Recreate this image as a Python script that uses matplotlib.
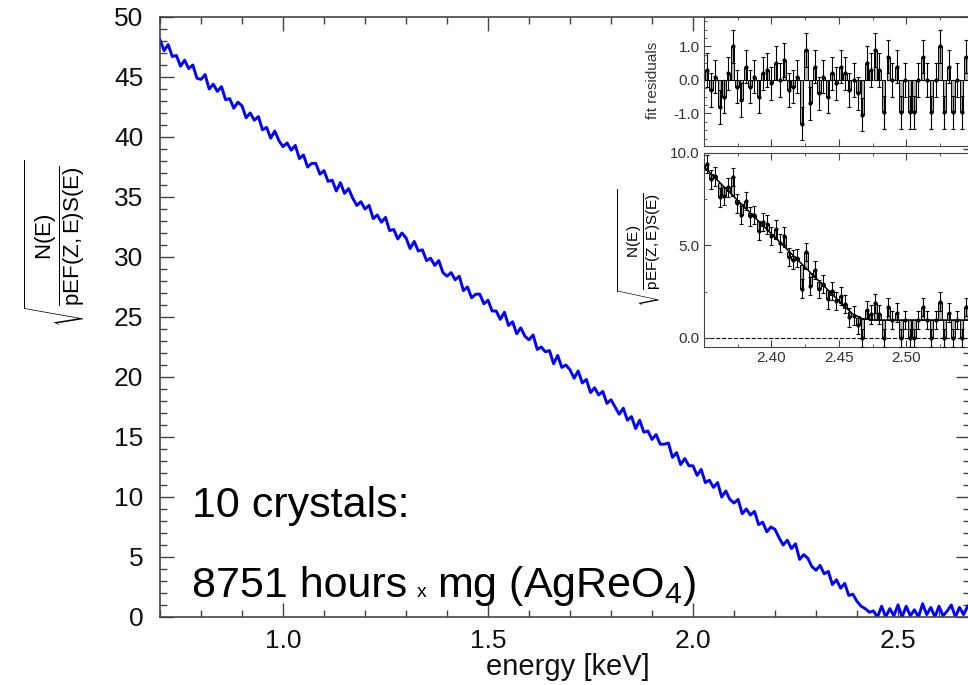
import matplotlib
matplotlib.use("Agg")
import matplotlib.pyplot as plt
from matplotlib.ticker import MultipleLocator, FixedLocator, FormatStrFormatter
import numpy as np

plt.rcParams['font.family'] = ['Liberation Sans', 'DejaVu Sans']
plt.rcParams['mathtext.fontset'] = 'custom'
plt.rcParams['mathtext.rm'] = 'Liberation Sans'
plt.rcParams['mathtext.it'] = 'Liberation Sans:italic'
plt.rcParams['mathtext.bf'] = 'Liberation Sans:bold'

# main spectrum: sqrt Kurie values, 0.01 keV bins from 0.70 to 2.67 keV
energy = np.arange(70, 268) / 100.0
kurie = [
    48.1, 47.2, 47.7, 46.7, 46.8, 45.9, 46.4, 45.7, 46.0, 44.9,
    44.8, 45.2, 44.0, 44.4, 43.8, 44.2, 43.1, 43.2, 42.4, 42.9,
    42.6, 41.6, 42.0, 41.4, 41.7, 40.6, 40.8, 39.9, 40.5, 39.7,
    39.2, 39.5, 38.9, 39.3, 38.2, 38.5, 37.5, 37.8, 37.8, 36.9,
    37.2, 36.3, 36.4, 35.5, 36.2, 35.3, 35.7, 34.9, 34.3, 34.6,
    34.0, 34.3, 33.2, 33.5, 32.9, 33.3, 32.2, 32.3, 31.5, 32.0,
    31.6, 30.7, 31.3, 30.5, 30.6, 29.7, 29.9, 29.3, 29.7, 28.7,
    28.4, 28.7, 28.1, 28.4, 27.2, 27.5, 26.6, 26.9, 26.9, 26.1,
    26.4, 25.5, 25.5, 24.8, 25.4, 24.3, 24.6, 23.6, 24.1, 23.4,
    23.1, 23.5, 22.3, 22.5, 22.1, 22.2, 21.1, 21.8, 20.8, 21.0,
    20.6, 19.9, 20.5, 19.5, 19.8, 18.7, 19.1, 18.5, 18.8, 17.8,
    18.1, 17.5, 16.9, 17.4, 16.4, 16.7, 15.7, 16.4, 15.4, 15.5,
    14.8, 15.2, 14.4, 14.4, 14.5, 13.3, 13.7, 12.7, 13.2, 12.6,
    12.6, 11.8, 12.3, 11.2, 11.4, 10.8, 11.2, 10.0, 10.5, 9.8,
    9.5, 9.8, 8.6, 9.0, 8.5, 8.8, 7.7, 7.9, 7.1, 7.5,
    7.3, 6.6, 6.0, 6.4, 5.7, 6.1, 4.8, 5.2, 4.9, 4.2,
    3.9, 4.3, 3.6, 3.8, 2.7, 3.1, 2.4, 2.8, 1.8, 1.9,
    1.3, 0.9, 0.7, 0.4, 0.5, 0.0, 0.9, 0.0, 0.7, 0.1,
    1.0, 0.0, 0.9, 0.1, 0.6, 0.0, 1.1, 0.2, 0.8, 0.0,
    0.9, 0.1, 0.5, 1.0, 0.0, 0.8, 0.2, 0.9,
]

# inset: endpoint region, 3.2 eV bins from 2.352 keV
inset_e = 2.352 + 0.0032 * np.arange(61)
inset_y = [
    9.40, 8.57, 8.73, 7.60, 7.67, 8.14, 8.70, 7.27, 6.64, 7.40,
    6.57, 6.64, 5.80, 6.27, 6.14, 5.51, 5.87, 5.14, 5.51, 4.37,
    4.24, 4.31, 2.67, 4.64, 2.81, 3.68, 2.64, 2.91, 2.08, 2.54,
    2.01, 2.28, 1.84, 1.11, 1.20, 0.70, 0.00, 1.50, 1.27, 1.87,
    1.27, 0.00, 1.67, 0.97, 1.37, 0.00, 0.97, 0.00, 0.00, 0.97,
    1.67, 0.97, 0.00, 0.97, 1.97, 0.00, 1.37, 0.00, 0.97, 0.00,
    1.67,
]
resid = [
    0.3, -0.3, 0.1, -0.8, -0.5, 0.2, 1.0, -0.2, -0.6, 0.4,
    -0.2, 0.1, -0.5, 0.2, 0.3, -0.1, 0.5, 0.0, 0.6, -0.3,
    -0.2, 0.1, -1.3, 0.9, -0.7, 0.4, -0.4, 0.1, -0.5, 0.2,
    -0.1, 0.4, 0.2, -0.3, 0.0, -0.4, -1.03, 0.5, 0.3, 0.9,
    0.3, -0.97, 0.7, 0.0, 0.4, -0.97, 0.0, -0.97, -0.97, 0.0,
    0.7, 0.0, -0.97, 0.0, 1.0, -0.97, 0.4, -0.97, 0.0, -0.97,
    0.7,
]
inset_err = 0.5
fit_e = [2.350, 2.370, 2.390, 2.410, 2.430, 2.450, 2.460, 2.467, 2.475, 2.560]
fit_y = [9.25, 7.80, 6.35, 4.90, 3.45, 2.00, 1.30, 1.05, 0.97, 0.97]
inset_ticks = [2.40, 2.45, 2.50]

W, H = 968, 685
fig = plt.figure(figsize=(W / 100, H / 100), dpi=100)


def box(l, t, r, b):
    return [l / W, 1 - b / H, (r - l) / W, (b - t) / H]


spine_c = '#444444'

# ---- main plot ----
ax = fig.add_axes(box(160, 17, 970, 617))
ax.plot(energy, kurie, color='#0000ff', lw=2.1)
ax.set_xlim(0.7, 0.7 + 810 / 410)
ax.set_ylim(0, 50)
ax.xaxis.set_major_locator(MultipleLocator(0.5))
ax.xaxis.set_minor_locator(MultipleLocator(0.1))
ax.yaxis.set_major_locator(MultipleLocator(5))
ax.yaxis.set_minor_locator(MultipleLocator(1))
ax.xaxis.set_major_formatter(FormatStrFormatter('%.1f'))
ax.tick_params(which='both', direction='in', top=True, right=True,
               color=spine_c, width=1.0)
ax.tick_params(which='major', length=10, labelsize=19, labelcolor='#111111')
ax.tick_params(which='minor', length=5)
ax.tick_params(axis='y', pad=12)
ax.tick_params(axis='x', pad=9)
for s in ax.spines.values():
    s.set_color(spine_c)
    s.set_linewidth(1.2)

sqrt_lab = r'$\sqrt{\dfrac{\mathrm{N(E)}}{\mathrm{pEF(Z,E)S(E)}}}$'
fig.text(55 / W, 1 - 243 / H, sqrt_lab, rotation=90, ha='center',
         va='center', fontsize=16)
fig.text(568 / W, 1 - 667 / H, 'energy [keV]', ha='center', va='center',
         fontsize=21, color='#111111')

# annotation text
fig.text(192 / W, 1 - 517 / H, '10 crystals:', fontsize=31,
         va='baseline', ha='left')
t1 = fig.text(192 / W, 1 - 597 / H, '8751 hours', fontsize=31,
              va='baseline', ha='left')
fig.canvas.draw()
bb = t1.get_window_extent()
t2 = fig.text((bb.x1 + 10) / W, 1 - 597 / H, 'x', fontsize=14,
              va='baseline', ha='left')
fig.canvas.draw()
bb2 = t2.get_window_extent()
fig.text((bb2.x1 + 10) / W, 1 - 597 / H, r'mg (AgReO$_4$)', fontsize=31,
         va='baseline', ha='left')

# ---- inset: residuals ----
inset_e = np.asarray(inset_e)
inset_y = np.asarray(inset_y)
resid = np.asarray(resid)

axr = fig.add_axes(box(704, 17, 980, 146))
axr.bar(inset_e, resid, width=0.0024, color='#b0b0b0', edgecolor='black',
        linewidth=0.7, zorder=2)
axr.errorbar(inset_e, resid, yerr=inset_err, fmt='o', ms=2, color='black',
             elinewidth=0.8, capsize=1.5, capthick=0.8, zorder=3)
axr.axhline(0, color='black', ls='--', lw=0.8, zorder=1)
axr.set_xlim(2.350, 2.350 + 276 / 1350)
axr.set_ylim(-1.97, 1.88)
axr.yaxis.set_major_locator(MultipleLocator(1.0))
axr.yaxis.set_minor_locator(MultipleLocator(0.25))
axr.xaxis.set_major_locator(FixedLocator(inset_ticks))
axr.xaxis.set_minor_locator(MultipleLocator(0.025))
axr.yaxis.set_major_formatter(FormatStrFormatter('%.1f'))
axr.tick_params(which='both', direction='in', top=True, right=True,
                labelbottom=False, color=spine_c)
axr.tick_params(which='major', length=5, labelsize=11, pad=3,
                labelcolor='#333333')
axr.tick_params(which='minor', length=2.5)
for s in axr.spines.values():
    s.set_color(spine_c)
fig.text(653 / W, 1 - 80 / H, 'fit residuals', rotation=90, ha='center',
         va='center', fontsize=11, color='#333333')

# ---- inset: spectrum near endpoint ----
axi = fig.add_axes(box(704, 153, 980, 347))
axi.bar(inset_e, resid, bottom=inset_y - resid, width=0.0024,
        color='#b0b0b0', edgecolor='black', linewidth=0.7, zorder=2)
axi.errorbar(inset_e, inset_y, yerr=inset_err, fmt='o', ms=2, color='black',
             elinewidth=0.8, capsize=1.5, capthick=0.8, zorder=3)
axi.plot(fit_e, fit_y, color='black', lw=1.1, zorder=4)
axi.axhline(0, color='black', ls='--', lw=0.8, zorder=1)
axi.set_xlim(2.350, 2.350 + 276 / 1350)
axi.set_ylim(-0.49, 10.0)
axi.yaxis.set_major_locator(MultipleLocator(5))
axi.yaxis.set_minor_locator(MultipleLocator(2.5))
axi.xaxis.set_major_locator(FixedLocator(inset_ticks))
axi.xaxis.set_minor_locator(MultipleLocator(0.025))
axi.yaxis.set_major_formatter(FormatStrFormatter('%.1f'))
axi.xaxis.set_major_formatter(FormatStrFormatter('%.2f'))
axi.tick_params(which='both', direction='in', top=True, right=True,
                color=spine_c)
axi.tick_params(which='major', length=5, labelsize=11, pad=3,
                labelcolor='#333333')
axi.tick_params(which='minor', length=2.5)
for s in axi.spines.values():
    s.set_color(spine_c)
fig.text(640 / W, 1 - 248 / H, sqrt_lab, rotation=90, ha='center',
         va='center', fontsize=11)

plt.savefig('out.png', dpi=100)
